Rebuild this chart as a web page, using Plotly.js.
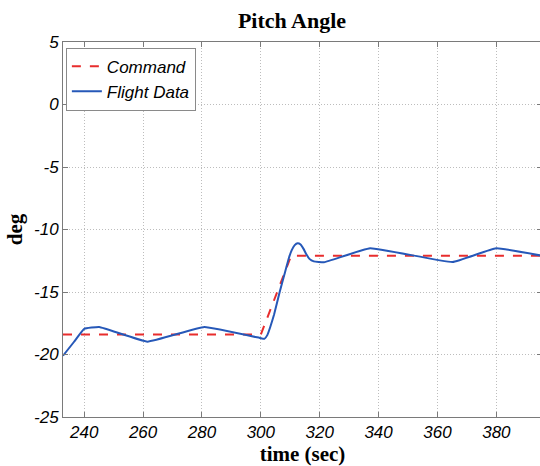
<!DOCTYPE html>
<html>
<head>
<meta charset="utf-8">
<script src="https://cdn.plot.ly/plotly-3.0.1.min.js"></script>
<style>
  html, body { margin: 0; padding: 0; overflow: hidden; background: #fff; }
  #chart { width: 542px; height: 466px; }
  /* tick numbers are set in italic sans */
  #chart .xtick text, #chart .ytick text { font-style: italic !important; }
</style>
</head>
<body>
<div id="chart"></div>
<script>
// Pitch angle: commanded profile vs. measured flight data
const cmdTime = [232.8, 300.0, 310.3, 395.5];
const cmdPitch = [-18.4, -18.4, -12.1, -12.1];

const flightTime = [232.8, 236.5, 240, 245.1, 261.5, 280.8, 300.1, 301.2, 302.2, 303.2,
                    304.5, 306.4, 308, 309.5, 310.5, 311.5, 312.5, 313.5, 314.5, 315.5,
                    316.5, 318, 321.5, 337.1, 365.1, 379.9, 395.5];
const flightPitch = [-20.1, -19.0, -17.95, -17.8, -18.97, -17.8, -18.7, -18.75, -18.45, -17.8,
                     -16.8, -15.0, -13.6, -12.3, -11.65, -11.25, -11.1, -11.2, -11.55, -12.0,
                     -12.35, -12.55, -12.62, -11.5, -12.6, -11.5, -12.1];

const xTicks = [240, 260, 280, 300, 320, 340, 360, 380];
const yTicks = [5, 0, -5, -10, -15, -20, -25];

function sansItalic() {
  return { family: 'Liberation Sans, Arial, sans-serif', size: 17, color: '#000', style: 'italic' };
}
function serifBold(size) {
  return { family: 'Liberation Serif, Times New Roman, serif', size: size, color: '#000', weight: 'bold' };
}

const traces = [
  {
    x: cmdTime, y: cmdPitch, name: 'Command', mode: 'lines',
    line: { color: 'rgb(232,45,45)', width: 2, dash: 'dash' }
  },
  {
    x: flightTime, y: flightPitch, name: 'Flight Data', mode: 'lines',
    line: { color: 'rgb(38,88,184)', width: 2, shape: 'spline', smoothing: 0.3 }
  }
];

function axisCommon() {
  return {
    showline: true, linecolor: '#7a7a7a', linewidth: 1, mirror: 'ticks',
    ticks: 'inside', ticklen: 5, tickcolor: '#7a7a7a',
    showgrid: true, gridcolor: '#bdbdbd', griddash: '1px,2px', gridwidth: 1,
    zeroline: false, tickfont: sansItalic()
  };
}

const layout = {
  width: 542, height: 466,
  margin: { l: 63, r: 0, t: 42, b: 49 },
  paper_bgcolor: '#fff', plot_bgcolor: '#fff',
  title: {
    text: 'Pitch Angle', font: serifBold(22),
    xref: 'container', x: 292 / 542, xanchor: 'center',
    yref: 'container', y: 1 - 20 / 466, yanchor: 'middle'
  },
  xaxis: Object.assign(axisCommon(), {
    range: [232.8, 395.5], tickvals: xTicks, ticktext: xTicks.map(String),
    title: { text: 'time (sec)', font: serifBold(21), standoff: 3 }
  }),
  yaxis: Object.assign(axisCommon(), {
    range: [-25, 5], tickvals: yTicks, ticktext: yTicks.map(String),
    title: { text: 'deg', font: serifBold(21), standoff: 5 }
  }),
  showlegend: true,
  legend: {
    x: 0.006, y: 0.985, xanchor: 'left', yanchor: 'top',
    bgcolor: '#fff', bordercolor: '#8a8a8a', borderwidth: 1,
    font: sansItalic(), tracegroupgap: 0
  }
};

Plotly.newPlot('chart', traces, layout, { displayModeBar: false, staticPlot: true });
</script>
</body>
</html>
